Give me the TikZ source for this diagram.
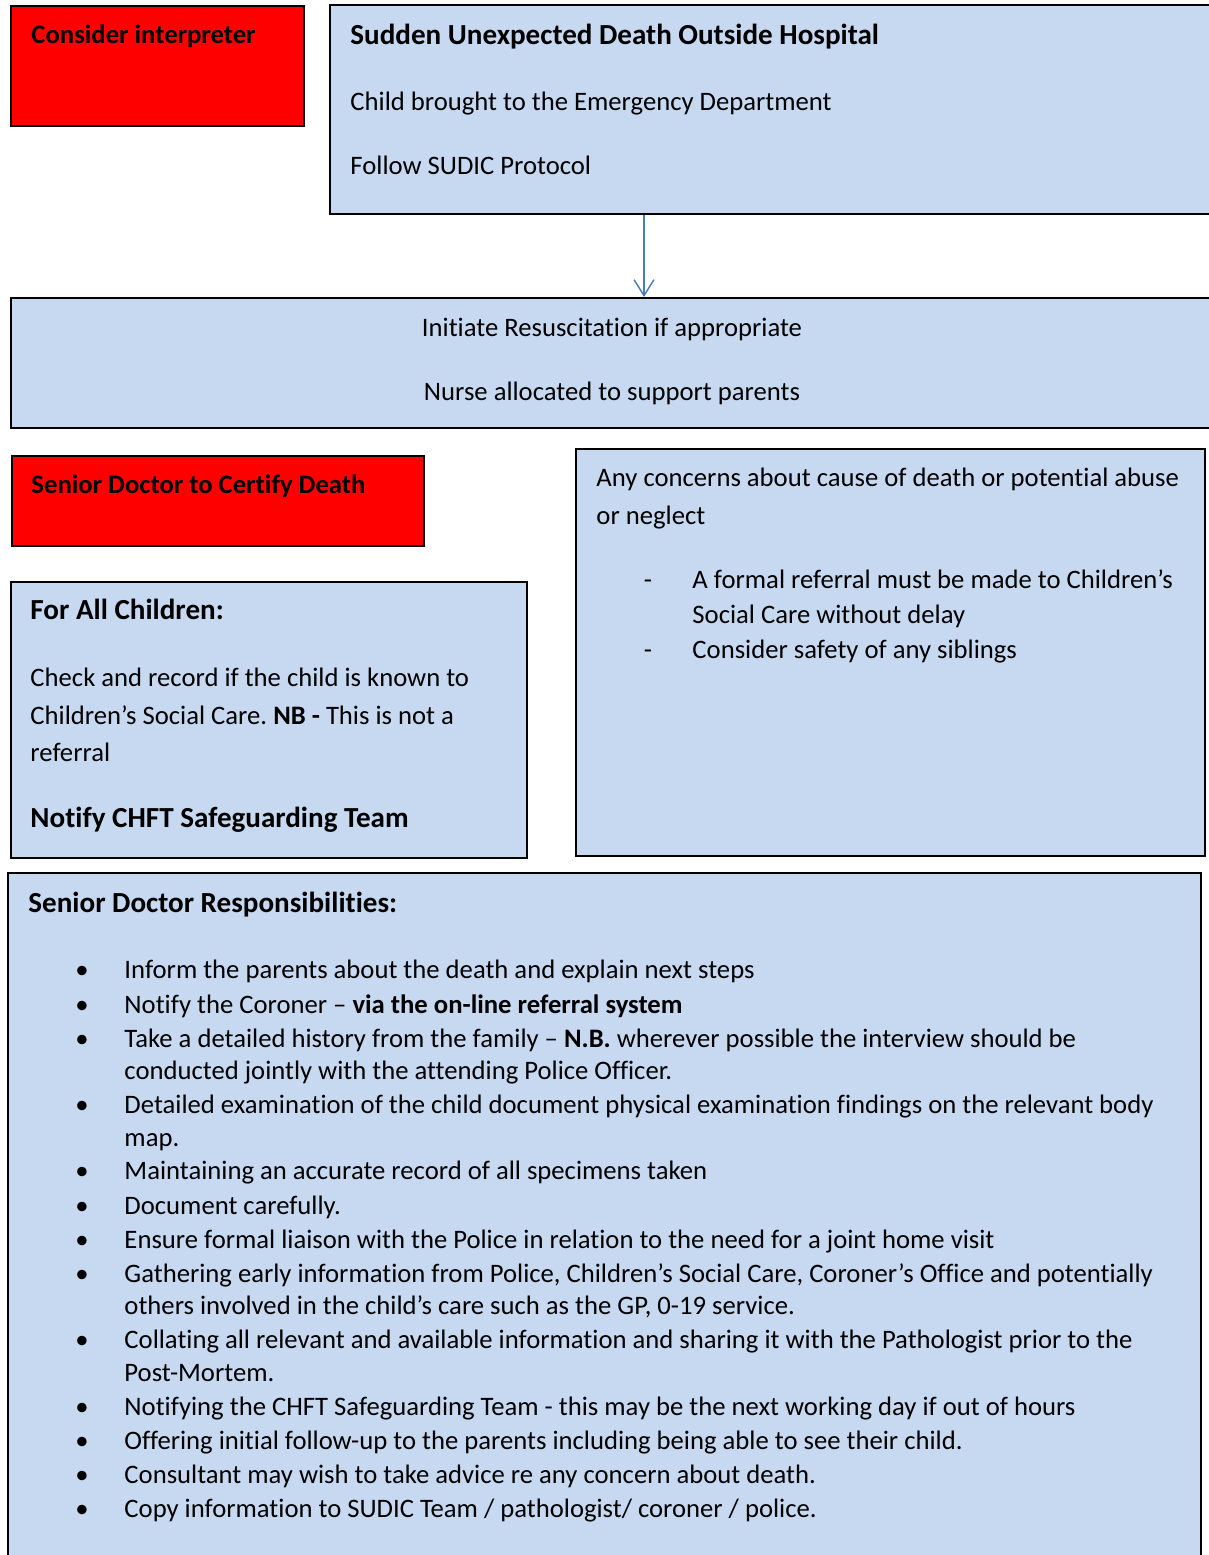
\documentclass[tikz,border=0pt]{standalone}
\usepackage{fontspec}
\setmainfont{Carlito}[Ligatures=NoCommon]
\usetikzlibrary{fit,arrows.meta}
\frenchspacing
\definecolor{boxblue}{RGB}{198,217,241}
\definecolor{arrblue}{RGB}{74,126,187}
\tikzset{
  bluebox/.style={draw=black, line width=0.8pt, fill=boxblue, inner sep=0pt},
  redbox/.style={draw=black, line width=0.8pt, fill=red, inner sep=0pt},
  txt/.style={inner sep=0pt, anchor=base west, yshift=-0.8pt, font=\fontsize{11}{13.4}\selectfont},
  ctxt/.style={inner sep=0pt, anchor=base, yshift=-0.8pt, font=\fontsize{11}{13.4}\selectfont},
  hd/.style={inner sep=0pt, anchor=base west, yshift=-0.8pt, font=\fontsize{12}{14.6}\selectfont\bfseries},
  shd/.style={inner sep=0pt, anchor=base west, yshift=-0.6pt, font=\fontsize{11}{13.4}\selectfont\bfseries},
  bul/.style={inner sep=0pt, anchor=base, yshift=-0.8pt, font=\fontsize{11}{13.4}\selectfont},
  arr/.style={draw=arrblue, line width=0.6pt, -{Straight Barb[length=6.6pt,width=8.2pt]}}
}
\begin{document}
\begin{tikzpicture}[x=0.4125pt,y=-0.4125pt]
\useasboundingbox (0,0) rectangle (1208,1555);
% boxes
\node[redbox, fit={(11,6) (304,126)}] (red1) {};
\node[bluebox, fit={(330,5) (1216,214)}] (top) {};
\node[bluebox, fit={(11,298) (1216,428)}] (resus) {};
\node[redbox, fit={(12,456) (424,546)}] (red2) {};
\node[bluebox, fit={(11,582) (527,858)}] (allch) {};
\node[bluebox, fit={(576,449) (1205,856)}] (concern) {};
\node[bluebox, fit={(8,873) (1201,1570)}] (senior) {};
% arrow
\coordinate (ax) at (644,0);
\draw[arr] (top.south -| ax) -- (resus.north -| ax);
% texts
\node[shd] (t1) at (31,42) {Consider interpreter};
\node[hd] (t2) at (350,43) {Sudden Unexpected Death Outside Hospital};
\node[txt] (t3) at (350,109) {Child brought to the Emergency Department};
\node[txt] (t4) at (350,173) {Follow SUDIC Protocol};
\node[ctxt] (t5) at (612,335) {Initiate Resuscitation if appropriate};
\node[ctxt] (t6) at (612,399) {Nurse allocated to support parents};
\node[shd] (t7) at (31,492) {Senior Doctor to Certify Death};
% concern box
\node[txt] (c1) at (596,485) {Any concerns about cause of death or potential abuse};
\node[txt] (c2) at (596,523) {or neglect};
\node[bul] (cd1) at (648,587) {-};
\node[txt] (c3) at (692,587) {A formal referral must be made to Children’s};
\node[txt] (c4) at (692,622) {Social Care without delay};
\node[bul] (cd2) at (648,657) {-};
\node[txt] (c5) at (692,657) {Consider safety of any siblings};
% for all children
\node[hd] (a1) at (30,618) {For All Children:};
\node[txt] (a2) at (30,685) {Check and record if the child is known to};
\node[txt] (a3) at (30,723) {Children’s Social Care. \textbf{NB -} This is not a};
\node[txt] (a4) at (30,760) {referral};
\node[hd] (a5) at (30,826) {Notify CHFT Safeguarding Team};
% senior doctor
\node[hd] (s0) at (28,911) {Senior Doctor Responsibilities:};
\foreach \y [count=\i] in {977,1012,1046,1112,1178,1213,1247,1281,1347,1414,1448,1482,1516}
  \node[bul] (b\i) at (82,\y) {\textbullet};
\node[txt] (s1) at (124,977) {Inform the parents about the death and explain next steps};
\node[txt] (s2) at (124,1012) {Notify the Coroner – \textbf{via the on-line referral system}};
\node[txt] (s3) at (124,1046) {Take a detailed history from the family – \textbf{N.B.} wherever possible the interview should be};
\node[txt] (s4) at (124,1078) {conducted jointly with the attending Police Officer.};
\node[txt] (s5) at (124,1112) {Detailed examination of the child document physical examination findings on the relevant body};
\node[txt] (s6) at (124,1145) {map.};
\node[txt] (s7) at (124,1178) {Maintaining an accurate record of all specimens taken};
\node[txt] (s8) at (124,1213) {Document carefully.};
\node[txt] (s9) at (124,1247) {Ensure formal liaison with the Police in relation to the need for a joint home visit};
\node[txt] (s10) at (124,1281) {Gathering early information from Police, Children’s Social Care, Coroner’s Office and potentially};
\node[txt] (s11) at (124,1313) {others involved in the child’s care such as the GP, 0-19 service.};
\node[txt] (s12) at (124,1347) {Collating all relevant and available information and sharing it with the Pathologist prior to the};
\node[txt] (s13) at (124,1380) {Post-Mortem.};
\node[txt] (s14) at (124,1414) {Notifying the CHFT Safeguarding Team - this may be the next working day if out of hours};
\node[txt] (s15) at (124,1448) {Offering initial follow-up to the parents including being able to see their child.};
\node[txt] (s16) at (124,1482) {Consultant may wish to take advice re any concern about death.};
\node[txt] (s17) at (124,1516) {Copy information to SUDIC Team / pathologist/ coroner / police.};
\end{tikzpicture}
\end{document}
